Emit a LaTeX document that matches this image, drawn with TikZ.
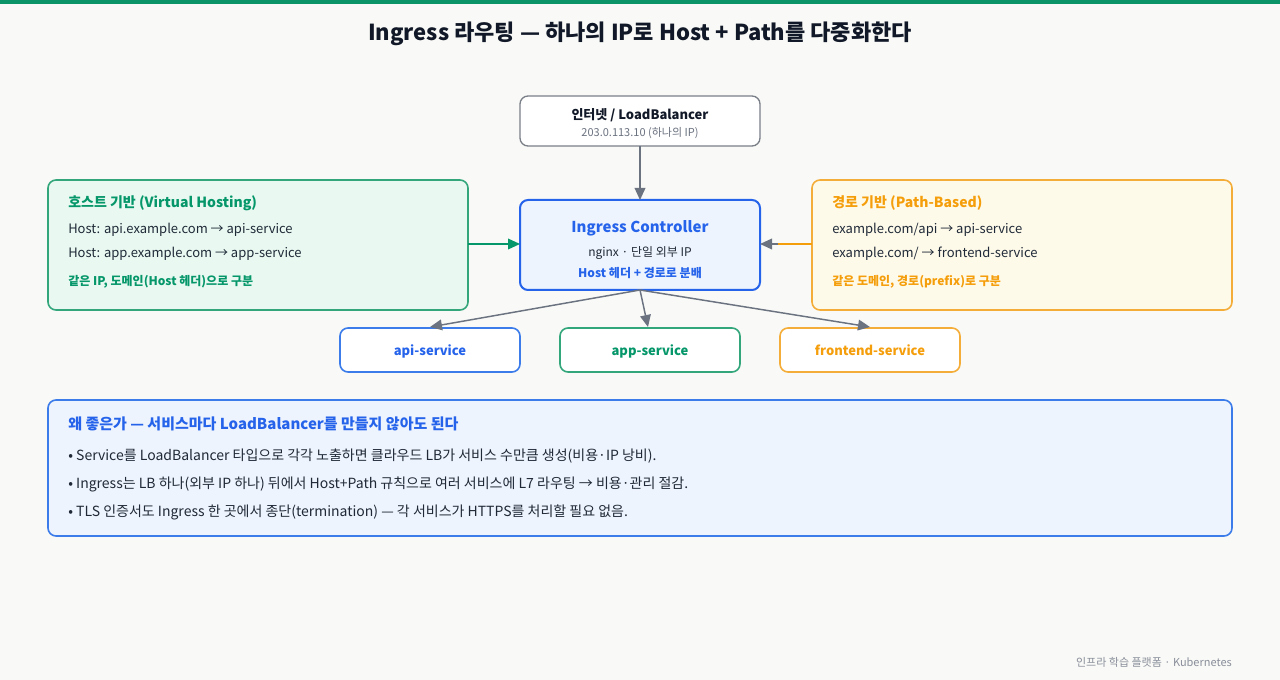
\documentclass[tikz,border=0pt]{standalone}
\usepackage{fontspec}
\setmainfont{Noto Sans CJK KR}
\usetikzlibrary{arrows.meta}
\definecolor{bg}{HTML}{F9FAF7}
\definecolor{topbar}{HTML}{0A9467}
\definecolor{ink}{HTML}{1F2937}
\definecolor{titleink}{HTML}{111827}
\definecolor{muted}{HTML}{6B7280}
\definecolor{lbstroke}{HTML}{7A7F88}
\definecolor{blu}{HTML}{2563EB}
\definecolor{blustroke}{HTML}{3B7BEA}
\definecolor{blufill}{HTML}{EEF4FD}
\definecolor{grn}{HTML}{059669}
\definecolor{grnstroke}{HTML}{34A67C}
\definecolor{grnfill}{HTML}{E9F9F1}
\definecolor{org}{HTML}{F59E0B}
\definecolor{orgstroke}{HTML}{F5AD3A}
\definecolor{orgfill}{HTML}{FEFAEA}
\newcommand{\fs}[1]{\fontsize{#1}{#1}\selectfont}
\tikzset{
  boxshape/.style={rounded corners=6, line width=1.2pt},
  txt/.style={inner sep=0, anchor=base west, text=ink},
  ctxt/.style={inner sep=0, anchor=base, text=ink},
  conn/.style={draw=muted, line width=1.1pt, -{Triangle[length=9pt,width=8pt]}},
}
\begin{document}
\begin{tikzpicture}[x=0.75pt, y=-0.75pt]
\useasboundingbox (0,0) rectangle (1280,680);
\fill[bg] (0,0) rectangle (1280,680);
\fill[topbar] (0,0) rectangle (1280,4);

% title
\node[ctxt, text=titleink] (title) at (640,41) {\fs{16.5}\bfseries Ingress 라우팅 — 하나의 IP로 Host + Path를 다중화한다};

% load balancer
\draw[boxshape, draw=lbstroke, fill=white, line width=1pt] (520,96) rectangle (760,146);
\coordinate (lbT) at (640,96);
\coordinate (lbB) at (640,146);
\node[ctxt, text=titleink] (lb1) at (640,120) {\fs{9.75}\bfseries 인터넷 / LoadBalancer};
\node[ctxt, text=muted] (lb2) at (640,137) {\fs{8.25}203.0.113.10 (하나의 IP)};

% ingress controller
\draw[boxshape, draw=blu, fill=blufill, line width=1.5pt] (520,200) rectangle (760,290);
\coordinate (igT) at (640,200);
\coordinate (igB) at (640,290);
\coordinate (igL) at (520,244);
\coordinate (igR) at (760,244);
\node[ctxt, text=blu] (ig1) at (640,233) {\fs{11.25}\bfseries Ingress Controller};
\node[ctxt] (ig2) at (640,257) {\fs{9}nginx · 단일 외부 IP};
\node[ctxt, text=blu] (ig3) at (640,278) {\fs{9}\bfseries Host 헤더 + 경로로 분배};

% left host box
\draw[boxshape, draw=grnstroke, fill=grnfill] (48,180) rectangle (468,310);
\coordinate (hR) at (468,244);
\node[txt, text=grn] (h1) at (68,208) {\fs{10.5}\bfseries 호스트 기반 (Virtual Hosting)};
\node[txt] (h2) at (68,234) {\fs{9.75}Host: api.example.com → api-service};
\node[txt] (h3) at (68,258) {\fs{9.75}Host: app.example.com → app-service};
\node[txt, text=grn] (h4) at (68,286) {\fs{9}\bfseries 같은 IP, 도메인(Host 헤더)으로 구분};

% right path box
\draw[boxshape, draw=orgstroke, fill=orgfill] (812,180) rectangle (1232,310);
\coordinate (pL) at (812,244);
\node[txt, text=org] (p1) at (832,208) {\fs{10.5}\bfseries 경로 기반 (Path-Based)};
\node[txt] (p2) at (832,234) {\fs{9.75}example.com/api → api-service};
\node[txt] (p3) at (832,258) {\fs{9.75}example.com/ → frontend-service};
\node[txt, text=org] (p4) at (832,286) {\fs{9}\bfseries 같은 도메인, 경로(prefix)로 구분};

% services
\draw[boxshape, draw=blustroke, fill=white] (340,328) rectangle (520,372);
\draw[boxshape, draw=grnstroke, fill=white] (560,328) rectangle (740,372);
\draw[boxshape, draw=orgstroke, fill=white] (780,328) rectangle (960,372);
\coordinate (s1) at (430,327);
\coordinate (s2) at (648,327);
\coordinate (s3) at (870,327);
\node[ctxt, text=blu] (sv1) at (430,356) {\fs{9.75}\bfseries api-service};
\node[ctxt, text=grn] (sv2) at (650,356) {\fs{9.75}\bfseries app-service};
\node[ctxt, text=org] (sv3) at (870,356) {\fs{9.75}\bfseries frontend-service};

% connectors
\draw[conn] (lbB) -- (igT);
\draw[conn, draw=grn, -{Triangle[length=9pt,width=8pt,fill=grn]}] (hR) -- (igL);
\draw[draw=org, line width=1.1pt] (pL) -- (778,244);
\draw[conn, draw=muted] (778,244) -- (igR);
\draw[conn] (igB) -- (s1);
\draw[conn] (igB) -- (s2);
\draw[conn] (igB) -- (s3);

% bottom box
\draw[boxshape, draw=blustroke, fill=blufill] (48,400) rectangle (1232,536);
\node[txt, text=blu] (b0) at (68,429) {\fs{11.25}\bfseries 왜 좋은가 — 서비스마다 LoadBalancer를 만들지 않아도 된다};
\node[txt] (b1) at (68,460) {\fs{10.5}• Service를 LoadBalancer 타입으로 각각 노출하면 클라우드 LB가 서비스 수만큼 생성(비용·IP 낭비).};
\node[txt] (b2) at (68,488) {\fs{10.5}• Ingress는 LB 하나(외부 IP 하나) 뒤에서 Host+Path 규칙으로 여러 서비스에 L7 라우팅 → 비용·관리 절감.};
\node[txt] (b3) at (68,516) {\fs{10.5}• TLS 인증서도 Ingress 한 곳에서 종단(termination) — 각 서비스가 HTTPS를 처리할 필요 없음.};

% footer
\node[inner sep=0, anchor=base east, text=muted!80] (foot) at (1232,666) {\fs{8.25}인프라 학습 플랫폼 · Kubernetes};
\end{tikzpicture}
\end{document}
